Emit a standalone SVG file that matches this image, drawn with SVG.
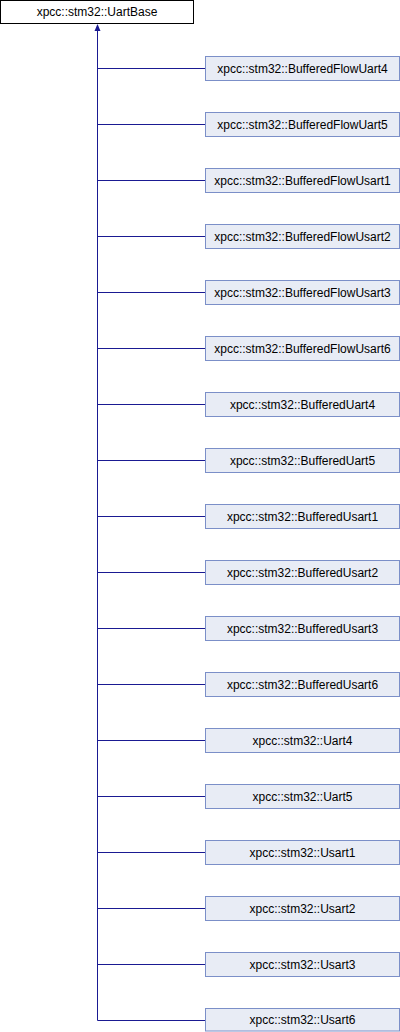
<svg xmlns="http://www.w3.org/2000/svg" width="400" height="1032" viewBox="0 0 400 1032">
<style>
text{font-family:"Liberation Sans",Arial,sans-serif;font-size:12px;fill:#000;text-anchor:middle}
.n rect{fill:#e8ecf5;stroke:#7b8fc8;stroke-width:1}
.r rect{fill:#fff;stroke:#000;stroke-width:1}
.e{stroke:#1a1a92;stroke-width:1;fill:none}
</style>
<rect width="400" height="1032" fill="#fff"/>
<g id="connectors">
<path class="e" d="M97.5,30 V1020.5"/>
<path d="M97.5,24 L100.5,31 L94.5,31 Z" fill="#1a1a92"/>
<path class="e" d="M97.5,68.5H205.5M97.5,124.5H205.5M97.5,180.5H205.5M97.5,236.5H205.5M97.5,292.5H205.5M97.5,348.5H205.5M97.5,404.5H205.5M97.5,460.5H205.5M97.5,516.5H205.5M97.5,572.5H205.5M97.5,628.5H205.5M97.5,684.5H205.5M97.5,740.5H205.5M97.5,796.5H205.5M97.5,852.5H205.5M97.5,908.5H205.5M97.5,964.5H205.5M97.5,1020.5H205.5"/>
</g>
<g id="UartBase" class="r"><rect x="0.5" y="0.5" width="193" height="23"/><text x="97" y="16">xpcc::stm32::UartBase</text></g>
<g id="BufferedFlowUart4" class="n"><rect x="205.5" y="56.5" width="194" height="24"/><text x="302.5" y="72.5">xpcc::stm32::BufferedFlowUart4</text></g>
<g id="BufferedFlowUart5" class="n"><rect x="205.5" y="112.5" width="194" height="24"/><text x="302.5" y="128.5">xpcc::stm32::BufferedFlowUart5</text></g>
<g id="BufferedFlowUsart1" class="n"><rect x="205.5" y="168.5" width="194" height="24"/><text x="302.5" y="184.5">xpcc::stm32::BufferedFlowUsart1</text></g>
<g id="BufferedFlowUsart2" class="n"><rect x="205.5" y="224.5" width="194" height="24"/><text x="302.5" y="240.5">xpcc::stm32::BufferedFlowUsart2</text></g>
<g id="BufferedFlowUsart3" class="n"><rect x="205.5" y="280.5" width="194" height="24"/><text x="302.5" y="296.5">xpcc::stm32::BufferedFlowUsart3</text></g>
<g id="BufferedFlowUsart6" class="n"><rect x="205.5" y="336.5" width="194" height="24"/><text x="302.5" y="352.5">xpcc::stm32::BufferedFlowUsart6</text></g>
<g id="BufferedUart4" class="n"><rect x="205.5" y="392.5" width="194" height="24"/><text x="302.5" y="408.5">xpcc::stm32::BufferedUart4</text></g>
<g id="BufferedUart5" class="n"><rect x="205.5" y="448.5" width="194" height="24"/><text x="302.5" y="464.5">xpcc::stm32::BufferedUart5</text></g>
<g id="BufferedUsart1" class="n"><rect x="205.5" y="504.5" width="194" height="24"/><text x="302.5" y="520.5">xpcc::stm32::BufferedUsart1</text></g>
<g id="BufferedUsart2" class="n"><rect x="205.5" y="560.5" width="194" height="24"/><text x="302.5" y="576.5">xpcc::stm32::BufferedUsart2</text></g>
<g id="BufferedUsart3" class="n"><rect x="205.5" y="616.5" width="194" height="24"/><text x="302.5" y="632.5">xpcc::stm32::BufferedUsart3</text></g>
<g id="BufferedUsart6" class="n"><rect x="205.5" y="672.5" width="194" height="24"/><text x="302.5" y="688.5">xpcc::stm32::BufferedUsart6</text></g>
<g id="Uart4" class="n"><rect x="205.5" y="728.5" width="194" height="24"/><text x="302.5" y="744.5">xpcc::stm32::Uart4</text></g>
<g id="Uart5" class="n"><rect x="205.5" y="784.5" width="194" height="24"/><text x="302.5" y="800.5">xpcc::stm32::Uart5</text></g>
<g id="Usart1" class="n"><rect x="205.5" y="840.5" width="194" height="24"/><text x="302.5" y="856.5">xpcc::stm32::Usart1</text></g>
<g id="Usart2" class="n"><rect x="205.5" y="896.5" width="194" height="24"/><text x="302.5" y="912.5">xpcc::stm32::Usart2</text></g>
<g id="Usart3" class="n"><rect x="205.5" y="952.5" width="194" height="24"/><text x="302.5" y="968.5">xpcc::stm32::Usart3</text></g>
<g id="Usart6" class="n"><rect x="205.5" y="1008.5" width="194" height="22.5"/><text x="302.5" y="1024">xpcc::stm32::Usart6</text></g>
</svg>
